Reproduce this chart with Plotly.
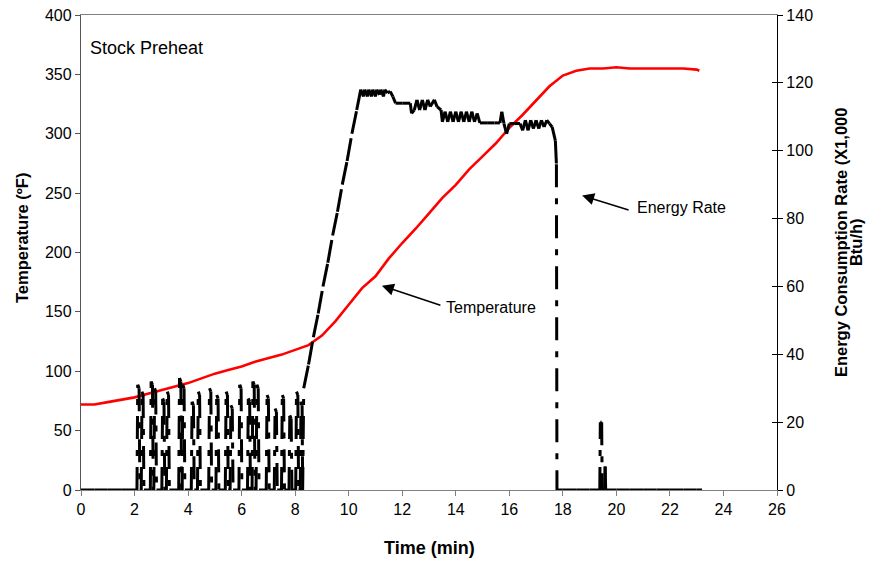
import plotly.graph_objects as go

# ---------------- data ----------------
temp_time = [0, 0.5, 1, 1.5, 2, 2.5, 3, 3.5, 4, 4.5, 5, 5.5, 6, 6.5, 7, 7.5, 8, 8.5,
             9, 9.5, 10, 10.5, 11, 11.5, 12, 12.5, 13, 13.5, 14, 14.5, 15, 15.5, 16,
             16.5, 17, 17.5, 18, 18.5, 19, 19.5, 20, 20.5, 21, 21.5, 22, 22.5, 23, 23.1]
temperature = [72, 72, 74, 76, 78, 81, 84, 87, 90, 94, 98, 101, 104, 108, 111, 114, 118, 122,
               130, 142, 156, 170, 180, 195, 208, 220, 233, 246, 257, 270, 281, 292, 305,
               316, 328, 340, 349, 353, 355, 355, 356, 355, 355, 355, 355, 355, 354, 353]

energy_time = [
    0.0, 0.5, 1.0, 1.5, 2.05,
    2.09, 2.12, 2.17, 2.2,
    2.25, 2.28, 2.32, 2.35,
    2.59, 2.62, 2.67, 2.7,
    2.72, 2.75, 2.79, 2.82,
    3.02, 3.05, 3.1, 3.13,
    3.19, 3.22, 3.27, 3.3,
    3.65, 3.68, 3.73, 3.76,
    3.78, 3.8, 3.85, 3.88,
    4.12, 4.15, 4.2, 4.23,
    4.35, 4.38, 4.43, 4.46,
    4.77, 4.8, 4.85, 4.88,
    5.04, 5.07, 5.12, 5.15,
    5.39, 5.42, 5.47, 5.5,
    5.57, 5.6, 5.65, 5.68,
    5.9, 5.93, 5.98, 6.01,
    6.22, 6.25, 6.3, 6.33,
    6.39, 6.42, 6.47, 6.5,
    6.54, 6.57, 6.62, 6.65,
    6.92, 6.95, 7.0, 7.03,
    7.22, 7.25, 7.3, 7.33,
    7.49, 7.52, 7.57, 7.6,
    7.77, 7.8, 7.85, 7.88,
    8.02, 8.05, 8.1, 8.13,
    8.19, 8.22, 8.26, 8.28,
    8.32, 8.5, 8.68, 8.86, 9.04, 9.22, 9.4, 9.58, 9.76, 9.94, 10.12, 10.3, 10.45,
    10.55, 10.6, 10.7, 10.75, 10.85, 10.9, 11.0, 11.05, 11.15, 11.2, 11.3, 11.35,
    11.45, 11.55, 11.65, 11.75, 12.0, 12.3, 12.35, 12.45, 12.55, 12.65, 12.75,
    12.85, 12.95, 13.05, 13.2, 13.3, 13.45, 13.5, 13.6, 13.7, 13.8, 13.9, 14.0,
    14.1, 14.2, 14.3, 14.4, 14.5, 14.6, 14.7, 14.8, 14.9, 15.2, 15.45, 15.65,
    15.72, 15.8, 15.9, 16.0, 16.2, 16.4, 16.5, 16.6, 16.7, 16.8, 16.9, 17.0,
    17.1, 17.2, 17.3, 17.4, 17.5, 17.6, 17.72, 17.76, 17.78,
    18.0, 18.5, 19.0, 19.38, 19.4, 19.45, 19.47, 19.56, 19.58, 19.6,
    20.0, 20.5, 21.0, 21.5, 22.0, 22.5, 23.0, 23.2]
energy_rate = [
    0, 0, 0, 0, 0,
    0, 31, 30, 0,
    0, 29, 28, 0,
    0, 32, 31, 0,
    0, 30, 29, 0,
    0, 27, 26, 0,
    0, 29, 28, 0,
    0, 33, 32, 0,
    0, 31, 30, 0,
    0, 26, 25, 0,
    0, 29, 28, 0,
    0, 30, 29, 0,
    0, 28, 27, 0,
    0, 29, 28, 0,
    0, 25, 24, 0,
    0, 31, 30, 0,
    0, 27, 26, 0,
    0, 32, 31, 0,
    0, 31, 30, 0,
    0, 28, 27, 0,
    0, 24, 23, 0,
    0, 28, 27, 0,
    0, 22, 21, 0,
    0, 29, 28, 0,
    0, 26, 25, 0,
    30, 37, 45, 52, 60, 67, 75, 82, 90, 97, 105, 112, 118,
    116, 118, 116, 118, 116, 118, 116, 118, 116.5, 118, 116, 118,
    117, 117.5, 116, 114, 114, 114, 111, 112, 115, 112, 115,
    112, 115, 113, 115, 113, 112, 108.5, 111.5, 108.5, 111.5, 108.5, 111.5,
    108.5, 111.5, 108.5, 111.5, 108.5, 111.5, 108.5, 111, 108.2, 108.2, 108.2, 108.2,
    111.5, 108, 105, 108, 108, 108, 106, 109, 106, 109, 106.5, 109,
    106.5, 109, 107, 109, 108, 107, 103, 96, 0,
    0, 0, 0, 0, 20, 20, 0, 0, 7, 0,
    0, 0, 0, 0, 0, 0, 0, 0]

x_ticks = [0, 2, 4, 6, 8, 10, 12, 14, 16, 18, 20, 22, 24, 26]

# segment table: each consecutive pair drawn as its own sub-path (dash restarts per segment)
seg_x, seg_y = [], []
for i in range(len(energy_time) - 1):
    seg_x += [energy_time[i], energy_time[i + 1], None]
    seg_y += [energy_rate[i], energy_rate[i + 1], None]

FONT = "Liberation Sans, Arial, sans-serif"

fig = go.Figure()
fig.add_trace(go.Scatter(x=temp_time, y=temperature, mode="lines",
                         line=dict(color="#FF0000", width=2.6), yaxis="y",
                         showlegend=False, hoverinfo="skip"))
fig.add_trace(go.Scatter(x=seg_x, y=seg_y, mode="lines", connectgaps=False,
                         line=dict(color="black", width=3, dash="23px,11px,6px,11px"),
                         yaxis="y2", showlegend=False, hoverinfo="skip"))

axis_font = dict(family=FONT, size=16, color="black")
title_font = dict(family=FONT, size=16.5, color="black")

fig.update_layout(
    width=881, height=563,
    margin=dict(l=81, r=104, t=15, b=73, autoexpand=False),
    paper_bgcolor="white", plot_bgcolor="white",
    font=dict(family=FONT, color="black"),
    xaxis=dict(range=[0, 26], tickvals=x_ticks, ticks="outside", ticklen=5,
               tickcolor="#808080", showline=True, linecolor="#808080", linewidth=1,
               mirror=True, showgrid=False, zeroline=False, tickfont=axis_font,
               automargin=False),
    yaxis=dict(range=[0, 400], dtick=50, ticks="outside", ticklen=5, tickcolor="#555",
               showline=True, linecolor="#555", linewidth=1.3, showgrid=False,
               zeroline=False, tickfont=axis_font, automargin=False),
    yaxis2=dict(range=[0, 140], dtick=20, overlaying="y", side="right", ticks="outside",
                ticklen=5, tickcolor="black", showline=True, linecolor="black",
                linewidth=1.3, showgrid=False, zeroline=False, tickfont=axis_font,
                automargin=False),
    yaxis3=dict(range=[0, 140], dtick=20, overlaying="y", side="right", ticks="inside",
                ticklen=5, tickcolor="black", showline=False, showgrid=False,
                zeroline=False, showticklabels=False, automargin=False),
)

# invisible helper trace so yaxis3 is drawn
fig.add_trace(go.Scatter(x=[None], y=[None], yaxis="y3", showlegend=False, hoverinfo="skip"))

# axis titles
fig.add_annotation(x=0.5, y=-0.1221, xref="paper", yref="paper", text="<b>Time (min)</b>",
                   showarrow=False, xanchor="center", yanchor="middle",
                   font=dict(family=FONT, size=18, color="black"))
fig.add_annotation(x=-0.0848, y=0.5305, xref="paper", yref="paper", text="<b>Temperature (ºF)</b>",
                   textangle=-90, showarrow=False, xanchor="center", yanchor="middle",
                   font=title_font)
fig.add_annotation(x=1.092, y=0.522, xref="paper", yref="paper",
                   text="<b>Energy Consumption Rate (X1,000</b>",
                   textangle=-90, showarrow=False, xanchor="center", yanchor="middle",
                   font=title_font)
fig.add_annotation(x=1.1135, y=0.522, xref="paper", yref="paper", text="<b>Btu/h)</b>",
                   textangle=-90, showarrow=False, xanchor="center", yanchor="middle",
                   font=title_font)

fig.add_annotation(x=0.26, y=372, xref="x", yref="y", text="Stock Preheat", showarrow=False,
                   xanchor="left", yanchor="middle", font=dict(family=FONT, size=18, color="black"))

# Temperature label + arrow
fig.add_annotation(x=11.24, y=172, xref="x", yref="y", text="", showarrow=True,
                   ax=60, ay=20, arrowhead=2, arrowsize=1.6, arrowwidth=1.5, arrowcolor="black")
fig.add_annotation(x=13.55, y=154, xref="x", yref="y", text="Temperature", showarrow=False,
                   xanchor="left", yanchor="middle", font=dict(family=FONT, size=16, color="black"))

# Energy Rate label + arrow
fig.add_annotation(x=18.72, y=248, xref="x", yref="y", text="", showarrow=True,
                   ax=48, ay=15, arrowhead=2, arrowsize=1.6, arrowwidth=1.5, arrowcolor="black")
fig.add_annotation(x=20.69, y=238, xref="x", yref="y", text="Energy Rate", showarrow=False,
                   xanchor="left", yanchor="middle", font=dict(family=FONT, size=16, color="black"))

fig.write_html("out.html")
